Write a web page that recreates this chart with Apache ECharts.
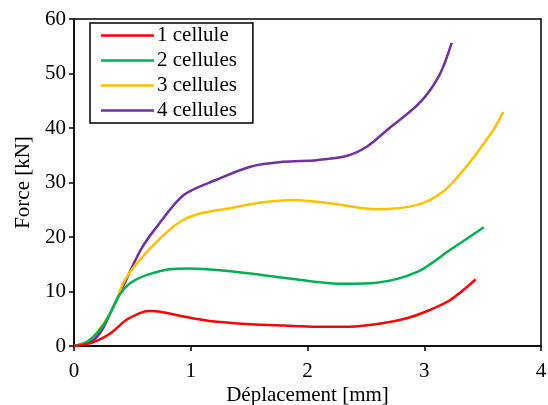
<!DOCTYPE html>
<html><head><meta charset="utf-8">
<script src="https://cdn.jsdelivr.net/npm/echarts@6/dist/echarts.min.js"></script>
<style>html,body{margin:0;padding:0;background:#fff}#c{width:548px;height:405px}</style>
</head><body><div id="c"></div>
<script>
const seriesNames = ['1 cellule', '2 cellules', '3 cellules', '4 cellules'];
const seriesColors = ['#FF0000', '#00B050', '#FFC000', '#7030A0'];
const xTicks = [0, 1, 2, 3, 4];
const yTicks = [0, 10, 20, 30, 40, 50, 60];
const cell1 = [[0,0],[0.1,0.3],[0.2,1.0],[0.31,2.3],[0.45,4.8],[0.56,6.0],[0.64,6.4],[0.74,6.3],[0.94,5.4],[1.16,4.6],[1.51,4.0],[1.8,3.75],[2.08,3.55],[2.36,3.55],[2.65,4.2],[2.85,5.1],[2.99,6.1],[3.22,8.4],[3.44,12.2]];
const cell2 = [[0,0],[0.1,0.6],[0.17,1.7],[0.25,3.8],[0.31,6.0],[0.39,9.4],[0.48,11.5],[0.62,13.0],[0.82,14.1],[0.99,14.2],[1.25,13.9],[1.51,13.3],[1.94,12.1],[2.31,11.4],[2.59,11.6],[2.94,13.6],[3.22,17.6],[3.51,21.8]];
const cell3 = [[0,0],[0.1,0.6],[0.2,2.6],[0.3,5.6],[0.37,8.6],[0.42,11.5],[0.54,15.2],[0.74,19.8],[0.91,22.8],[1.08,24.3],[1.31,25.2],[1.59,26.3],[1.88,26.8],[2.22,26.1],[2.59,25.1],[2.94,25.9],[3.16,28.3],[3.36,32.9],[3.59,39.6],[3.677,42.9]];
const cell4 = [[0,0],[0.1,0.4],[0.17,1.1],[0.25,3.3],[0.31,6.0],[0.42,10.9],[0.57,17.6],[0.71,21.9],[0.94,27.7],[1.22,30.5],[1.51,32.9],[1.79,33.8],[2.08,34.1],[2.34,34.9],[2.51,36.6],[2.68,39.6],[2.96,44.6],[3.13,49.7],[3.235,55.6]];
const allData = [cell1, cell2, cell3, cell4];

const font = 'Liberation Serif, Times New Roman, serif';
const fs = 21;
const chart = echarts.init(document.getElementById('c'));
chart.setOption({
  animation: false,
  backgroundColor: '#fff',
  grid: {left: 74, right: 7, top: 19, bottom: 59, containLabel: false, outerBoundsMode: 'none',
         show: true, borderColor: '#000', borderWidth: 1.5, backgroundColor: 'transparent'},
  legend: {
    orient: 'vertical', left: 90, top: 23,
    data: seriesNames,
    icon: 'rect',
    itemWidth: 53, itemHeight: 2.5, itemGap: 4,
    padding: [2, 16, 2, 11],
    borderColor: '#000', borderWidth: 1.5,
    textStyle: {fontFamily: font, fontSize: fs, color: '#000', padding: [0,0,0,-2]}
  },
  xAxis: {
    type: 'value', min: xTicks[0], max: xTicks[xTicks.length-1], interval: 1,
    name: 'Déplacement [mm]', nameLocation: 'middle', nameGap: 39, nameMoveOverlap: false,
    nameTextStyle: {fontFamily: font, fontSize: fs, color: '#000'},
    axisLine: {lineStyle: {color: '#000', width: 1.5}},
    axisTick: {show: true, inside: false, length: 5, lineStyle: {color: '#000', width: 1.5}},
    axisLabel: {fontFamily: font, fontSize: fs, color: '#000', margin: 15},
    splitLine: {show: false}
  },
  yAxis: {
    type: 'value', min: yTicks[0], max: yTicks[yTicks.length-1], interval: 10,
    name: 'Force [kN]', nameLocation: 'middle', nameGap: 40, nameMoveOverlap: false,
    nameTextStyle: {fontFamily: font, fontSize: fs, color: '#000'},
    axisLine: {show: true, lineStyle: {color: '#000', width: 1.5}},
    axisTick: {show: true, inside: false, length: 5, lineStyle: {color: '#000', width: 1.5}},
    axisLabel: {fontFamily: font, fontSize: fs, color: '#000', margin: 8},
    splitLine: {show: false}
  },
  series: seriesNames.map((n, i) => ({
    name: n, type: 'line', data: allData[i],
    smooth: 0.3, symbol: 'none', showSymbol: false,
    lineStyle: {color: seriesColors[i], width: 2.5},
    itemStyle: {color: seriesColors[i]},
    z: 2 + (3 - i)
  }))
});
</script></body></html>
